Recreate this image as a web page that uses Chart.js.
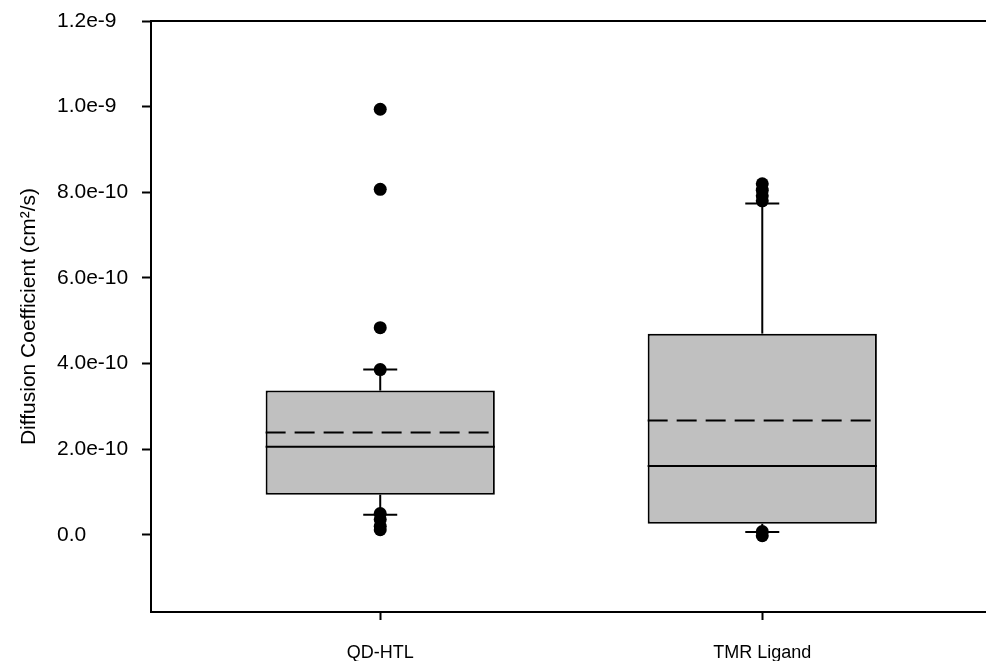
<!DOCTYPE html>
<html>
<head>
<meta charset="utf-8">
<script src="https://cdn.jsdelivr.net/npm/chart.js@4/dist/chart.umd.min.js"></script>
<style>
  html, body { margin: 0; padding: 0; background: #fff; overflow: hidden; }
</style>
</head>
<body>
<canvas id="myChart" width="998" height="663"></canvas>
<script>
// categories sit at x = 1, 2 on a linear axis
const categories = ['QD-HTL', 'TMR Ligand'];
const q1 = [0.94e-10, 0.26e-10];
const q3 = [3.37e-10, 4.70e-10];
const median = [2.06e-10, 1.61e-10];
const mean = [2.39e-10, 2.67e-10];
const whiskerLow = [0.47e-10, 0.07e-10];
const whiskerHigh = [3.86e-10, 7.74e-10];
const outliers = [
  [9.94e-10, 8.07e-10, 4.84e-10, 3.86e-10, 0.50e-10, 0.36e-10, 0.20e-10, 0.12e-10],
  [8.20e-10, 8.05e-10, 7.92e-10, 7.80e-10, 0.08e-10, -0.02e-10]
];
const yTickValues = [0, 2e-10, 4e-10, 6e-10, 8e-10, 1e-9, 1.2e-9];
const yTickLabels = ['0.0', '2.0e-10', '4.0e-10', '6.0e-10', '8.0e-10', '1.0e-9', '1.2e-9'];

const FONT = "'Liberation Sans', Arial, sans-serif";

const boxData = categories.map((c, i) => ({x: i + 1, y: [q1[i], q3[i]]}));
const outlierData = [];
outliers.forEach((list, i) => {
  list.forEach((v) => outlierData.push({x: i + 1, y: v}));
});

//whiskers, caps, median and mean lines, drawn after the boxes
const boxLines = {
  id: 'boxLines',
  afterDatasetDraw(chart, args) {
    if (args.index !== 0) return;
    const ctx = chart.ctx;
    const xs = chart.scales.x;
    const ys = chart.scales.y;
    const bars = chart.getDatasetMeta(0).data;
    ctx.save();
    ctx.strokeStyle = '#000';
    ctx.lineWidth = 2;
    const line = (x1, y1, x2, y2) => {
      ctx.beginPath();
      ctx.moveTo(x1, y1);
      ctx.lineTo(x2, y2);
      ctx.stroke();
    };
    categories.forEach((c, i) => {
      const cx = xs.getPixelForValue(i + 1);
      const half = bars[i].width / 2;
      const capHalf = 17;
      // whiskers
      line(cx, ys.getPixelForValue(q3[i]), cx, ys.getPixelForValue(whiskerHigh[i]));
      line(cx, ys.getPixelForValue(q1[i]), cx, ys.getPixelForValue(whiskerLow[i]));
      line(cx - capHalf, ys.getPixelForValue(whiskerHigh[i]), cx + capHalf, ys.getPixelForValue(whiskerHigh[i]));
      line(cx - capHalf, ys.getPixelForValue(whiskerLow[i]), cx + capHalf, ys.getPixelForValue(whiskerLow[i]));
      // median
      line(cx - half, ys.getPixelForValue(median[i]), cx + half, ys.getPixelForValue(median[i]));
      // mean (dashed)
      ctx.setLineDash([20, 9]);
      line(cx - half, ys.getPixelForValue(mean[i]), cx + half, ys.getPixelForValue(mean[i]));
      ctx.setLineDash([]);
    });
    ctx.restore();
  },
  afterDraw(chart) {
    // top frame line
    const a = chart.chartArea;
    const ctx = chart.ctx;
    ctx.save();
    ctx.strokeStyle = '#000';
    ctx.lineWidth = 2;
    ctx.beginPath();
    ctx.moveTo(a.left - 1, a.top);
    ctx.lineTo(a.right, a.top);
    ctx.stroke();
    ctx.restore();
  }
};

const config = {
  type: 'bar',
  data: {
    datasets: [
      {
        type: 'bar',
        data: boxData,
        backgroundColor: '#c0c0c0',
        borderColor: '#000',
        borderWidth: 2,
        borderSkipped: false,
        barPercentage: 1,
        categoryPercentage: 0.6,
        order: 2
      },
      {
        type: 'scatter',
        data: outlierData,
        backgroundColor: '#000',
        borderColor: '#000',
        pointRadius: 6.5,
        pointBorderWidth: 0,
        order: 1
      }
    ]
  },
  options: {
    responsive: false,
    animation: false,
    devicePixelRatio: 1,
    layout: { padding: { top: 21, left: 0, right: 0, bottom: 2 } },
    plugins: {
      legend: { display: false },
      tooltip: { enabled: false }
    },
    scales: {
      x: {
        type: 'linear',
        min: 0.4,
        max: 2.6,
        offset: false,
        afterBuildTicks: (scale) => {
          scale.ticks = categories.map((c, i) => ({value: i + 1}));
        },
        afterFit: (scale) => { scale.height = 49; },
        ticks: {
          color: '#000',
          font: { family: FONT, size: 18 },
          padding: 22,
          maxRotation: 0,
          callback: (v) => categories[Math.round(v) - 1]
        },
        grid: {
          offset: false,
          drawOnChartArea: false,
          drawTicks: true,
          tickLength: 8,
          tickColor: '#000',
          tickWidth: 2
        },
        border: { display: true, color: '#000', width: 2 }
      },
      // holds only the rotated axis title, outside the tick labels
      yTitle: {
        position: 'left',
        weight: 1,
        min: -1.8e-10,
        max: 1.2e-9,
        afterFit: (scale) => { scale.width = 57; },
        ticks: { display: false },
        grid: { display: false, drawTicks: false },
        border: { display: false },
        title: {
          display: true,
          text: 'Diffusion Coefficient (cm²/s)',
          color: '#000',
          font: { family: FONT, size: 21 },
          padding: { top: 17, bottom: 0 }
        }
      },
      y: {
        position: 'left',
        weight: 0,
        min: -1.8e-10,
        max: 1.2e-9,
        afterBuildTicks: (scale) => {
          scale.ticks = yTickValues.map((v) => ({value: v}));
        },
        afterFit: (scale) => { scale.width = 94; },
        ticks: {
          color: '#000',
          font: { family: FONT, size: 21 },
          crossAlign: 'far',
          padding: 4,
          callback: (v, idx) => yTickLabels[idx]
        },
        grid: {
          drawOnChartArea: false,
          drawTicks: true,
          tickLength: 9,
          tickColor: '#000',
          tickWidth: 2
        },
        border: { display: true, color: '#000', width: 2 }
      }
    }
  },
  plugins: [boxLines]
};

new Chart(document.getElementById('myChart'), config);
</script>
</body>
</html>
